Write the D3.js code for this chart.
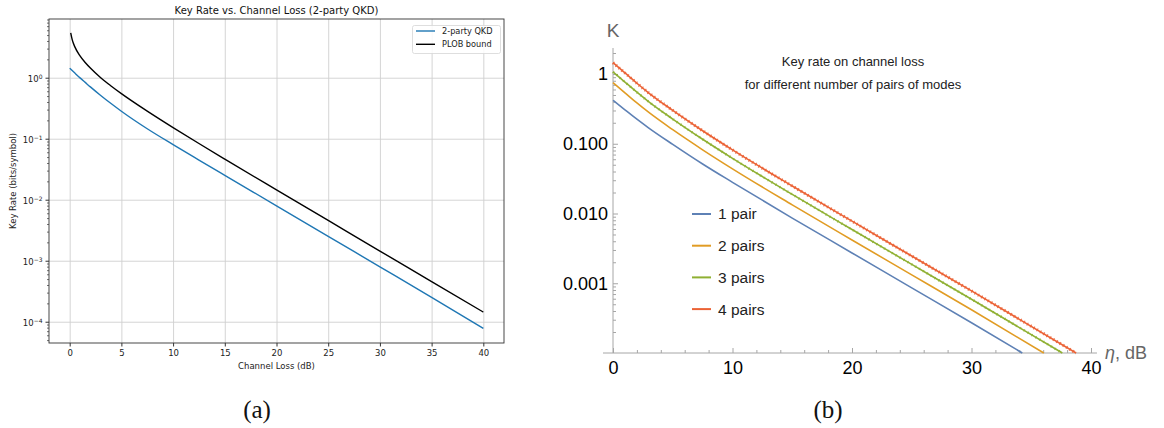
<!DOCTYPE html>
<html><head><meta charset="utf-8">
<script src="https://cdn.jsdelivr.net/npm/d3@7"></script>
<style>body{margin:0;background:#fff}svg{display:block}</style>
</head><body>
<svg id="c" width="1164" height="428"></svg>
<script>
// ---------------- DATA: panel (a) ----------------
const titleA = "Key Rate vs. Channel Loss (2-party QKD)";
const xLabelA = "Channel Loss (dB)";
const yLabelA = "Key Rate (bits/symbol)";
const seriesNamesA = ["2-party QKD", "PLOB bound"];
const xTicksA = [0,5,10,15,20,25,30,35,40];
const yTicksA = [1e-4,1e-3,1e-2,1e-1,1];
const yTickExpA = ["\u22124","\u22123","\u22122","\u22121","0"];
const lossQkd = [0,0.5,1,1.5,2,3,4,5,7.5,10,12.5,15,20,25,30,35,40];
const rateQkd = [1.43,1.19,0.994,0.838,0.707,0.512,0.377,0.282,0.1455,0.080,0.0447,0.0251,0.00795,0.00251,0.000795,0.000251,0.0000775];
const lossPlob = [0.1,0.25,0.5,1,1.5,2,3,4,5,7.5,10,12.5,15,20,25,30,35,40];
const ratePlob = [5.45,4.16,3.2,2.28,1.78,1.44,1.0,0.732,0.548,0.283,0.152,0.0834,0.0463,0.0145,0.00457,0.00144,0.000456,0.000144];

// ---------------- DATA: panel (b) ----------------
const titleB1 = "Key rate on channel loss";
const titleB2 = "for different number of pairs of modes";
const seriesNamesB = ["1 pair","2 pairs","3 pairs","4 pairs"];
const xTicksB = [0,10,20,30,40];
const yTicksB = [1,0.1,0.01,0.001];
const yTickLabelsB = ["1","0.100","0.010","0.001"];
const lossB = [0,1,2,3,5,7.5,10,15,20,25,30];
const pair1 = [0.42,0.307,0.225,0.168,0.098,0.0513,0.028,0.0086,0.00272,0.00086,0.000272];
const pair2 = [0.75,0.538,0.385,0.281,0.159,0.0819,0.0437,0.0133,0.00417,0.00132,0.000417];
const pair3 = [1.072,0.767,0.548,0.399,0.226,0.116,0.0618,0.01878,0.00589,0.001863,0.000589];
const pair4 = [1.451,1.035,0.737,0.534,0.301,0.1536,0.0816,0.02476,0.00776,0.002454,0.000776];
const endLossB = [34.25,36.05,37.6,38.75];   // where each curve reaches the bottom (1e-4)
const endRateB = 0.0001;

const svg = d3.select("#c");

// ================= PANEL (a) =================
const aL=49, aR=504, aT=19, aB=343;
const xA = d3.scaleLinear().domain([-2,42]).range([aL,aR]);
const yA = d3.scaleLog().domain([4.48e-5,9.17]).range([aB,aT]);
const gA = svg.append("g").attr("font-family","DejaVu Sans, sans-serif");

// grid
gA.append("g").attr("transform",`translate(0,${aB})`)
  .call(d3.axisBottom(xA).tickValues(xTicksA).tickSize(-(aB-aT)).tickFormat(""))
  .call(g=>{g.select(".domain").remove();g.selectAll("line").attr("stroke","#cfcfcf").attr("stroke-width",0.9);});
gA.append("g").attr("transform",`translate(${aL},0)`)
  .call(d3.axisLeft(yA).tickValues(yTicksA).tickSize(-(aR-aL)).tickFormat(""))
  .call(g=>{g.select(".domain").remove();g.selectAll("line").attr("stroke","#cfcfcf").attr("stroke-width",0.9);});

// curves
const lineA = d3.line().x(d=>xA(d[0])).y(d=>yA(d[1])).curve(d3.curveMonotoneX);
gA.append("path").datum(d3.zip(lossQkd,rateQkd)).attr("d",lineA)
  .attr("fill","none").attr("stroke","#1f77b4").attr("stroke-width",1.4);
gA.append("path").datum(d3.zip(lossPlob,ratePlob)).attr("d",lineA)
  .attr("fill","none").attr("stroke","#000").attr("stroke-width",1.4);

// frame
gA.append("rect").attr("x",aL).attr("y",aT).attr("width",aR-aL).attr("height",aB-aT)
  .attr("fill","none").attr("stroke","#333").attr("stroke-width",0.9);

// x axis ticks
gA.append("g").attr("transform",`translate(0,${aB})`)
  .call(d3.axisBottom(xA).tickValues(xTicksA).tickSize(3.5).tickPadding(3).tickFormat(d3.format("d")))
  .call(g=>{g.select(".domain").remove();g.selectAll("line").attr("stroke","#333");
    g.selectAll("text").attr("font-size",8.5).attr("fill","#222").attr("font-family","DejaVu Sans");});

// y minor ticks
const minorA=[];
for(let e=-5;e<=0;e++) for(let k=2;k<=9;k++){const v=k*Math.pow(10,e); if(v>=4.48e-5&&v<=9.17) minorA.push(v);}
gA.append("g").attr("transform",`translate(${aL},0)`)
  .call(d3.axisLeft(yA).tickValues(minorA).tickSize(2).tickFormat(""))
  .call(g=>{g.select(".domain").remove();g.selectAll("line").attr("stroke","#333").attr("stroke-width",0.7);});
// y major ticks
const yAxA = gA.append("g").attr("transform",`translate(${aL},0)`)
  .call(d3.axisLeft(yA).tickValues(yTicksA).tickSize(3.5).tickPadding(3).tickFormat(""))
  .call(g=>{g.select(".domain").remove();g.selectAll("line").attr("stroke","#333");});
yAxA.selectAll(".tick").each(function(d){
  const t=d3.select(this).select("text").attr("font-size",8.5).attr("fill","#222")
    .attr("font-family","DejaVu Sans").attr("dy","0.45em");
  t.text(null);
  t.append("tspan").text("10");
  t.append("tspan").attr("dy","-0.55em").attr("font-size",6).text(yTickExpA[yTicksA.indexOf(d)]);
});

// labels
gA.append("text").attr("x",(aL+aR)/2).attr("y",aT-5).attr("text-anchor","middle")
  .attr("font-size",10).attr("fill","#111").text(titleA);
gA.append("text").attr("x",(aL+aR)/2).attr("y",369).attr("text-anchor","middle")
  .attr("font-size",8.5).attr("fill","#222").text(xLabelA);
gA.append("text").attr("transform",`translate(16,${(aT+aB)/2}) rotate(-90)`).attr("text-anchor","middle")
  .attr("font-size",8.5).attr("fill","#222").text(yLabelA);

// legend
const lgA = gA.append("g");
lgA.append("rect").attr("x",412.5).attr("y",25.5).attr("width",88).attr("height",28).attr("rx",2)
  .attr("fill","#fff").attr("fill-opacity",0.85).attr("stroke","#d6d6d6").attr("stroke-width",0.8);
const colsA=["#1f77b4","#000"];
seriesNamesA.forEach((n,i)=>{
  const y=31+i*13.3;
  lgA.append("line").attr("x1",416).attr("x2",435).attr("y1",y).attr("y2",y).attr("stroke",colsA[i]).attr("stroke-width",1.4);
  lgA.append("text").attr("x",442).attr("y",y).attr("dy","0.35em").attr("font-size",8.2).attr("fill","#222").text(n);
});

// caption
svg.append("text").attr("x",257).attr("y",418).attr("text-anchor","middle")
  .attr("font-family","Liberation Serif, serif").attr("font-size",25).attr("fill","#111").text("(a)");

// ================= PANEL (b) =================
const bAxisX=613, bAxisY=353;
const xB = d3.scaleLinear().domain([0,40]).range([613,1091]);
const yB = d3.scaleLog().domain([1e-4,1]).range([353,74]);
const gB = svg.append("g").attr("font-family","Liberation Sans, Arial, sans-serif");
const axisCol="#a6a6a6";

// axis lines
gB.append("line").attr("x1",bAxisX).attr("x2",bAxisX).attr("y1",48).attr("y2",bAxisY).attr("stroke",axisCol).attr("stroke-width",1);
gB.append("line").attr("x1",603).attr("x2",xB(40.5)).attr("y1",bAxisY).attr("y2",bAxisY).attr("stroke",axisCol).attr("stroke-width",1);

// y ticks (pointing right)
const minorB=[];
for(let e=-4;e<=0;e++) for(let k=2;k<=9;k++){const v=k*Math.pow(10,e); if(v<=2.3) minorB.push(v);}
gB.append("g").attr("transform",`translate(${bAxisX},0)`)
  .call(d3.axisLeft(yB).tickValues(minorB).tickSize(-3).tickFormat(""))
  .call(g=>{g.select(".domain").remove();g.selectAll("line").attr("stroke",axisCol);});
gB.append("g").attr("transform",`translate(${bAxisX},0)`)
  .call(d3.axisLeft(yB).tickValues(yTicksB).tickSize(-5).tickPadding(5).tickFormat((d,i)=>yTickLabelsB[i]))
  .call(g=>{g.select(".domain").remove();g.selectAll("line").attr("stroke",axisCol);
    g.selectAll("text").attr("font-size",18).attr("fill","#000").attr("font-family","Liberation Sans, Arial, sans-serif");});

// x ticks (pointing up)
const minorXB=d3.range(2,41,2).filter(v=>v%10!==0);
gB.append("g").attr("transform",`translate(0,${bAxisY})`)
  .call(d3.axisBottom(xB).tickValues(minorXB).tickSize(-3).tickFormat(""))
  .call(g=>{g.select(".domain").remove();g.selectAll("line").attr("stroke",axisCol);});
gB.append("g").attr("transform",`translate(0,${bAxisY})`)
  .call(d3.axisBottom(xB).tickValues(xTicksB).tickSize(-5).tickPadding(8).tickFormat(d3.format("d")))
  .call(g=>{g.select(".domain").remove();g.selectAll("line").attr("stroke",axisCol);
    g.selectAll("text").attr("font-size",18).attr("fill","#000").attr("font-family","Liberation Sans, Arial, sans-serif");});

// axis labels
gB.append("text").attr("x",bAxisX).attr("y",37).attr("text-anchor","middle")
  .attr("font-size",19).attr("fill","#666").text("K");
const etaLbl = gB.append("text").attr("x",xB(40.5)+8).attr("y",bAxisY+6).attr("font-size",18).attr("fill","#666");
etaLbl.append("tspan").attr("font-style","italic").text("\u03b7");
etaLbl.append("tspan").text(", dB");

// curves
const colsB=["#5e81b5","#e19c24","#8fb032","#eb6235"];
const lineB = d3.line().x(d=>xB(d[0])).y(d=>yB(d[1])).curve(d3.curveMonotoneX);
[pair1,pair2,pair3,pair4].forEach((vals,i)=>{
  const pts = d3.zip(lossB,vals).concat([[endLossB[i],endRateB]]);
  gB.append("path").datum(pts).attr("d",lineB).attr("fill","none")
    .attr("stroke",colsB[i]).attr("stroke-width",1.6);
  if(i>=2){
    gB.append("path").datum(pts).attr("d",lineB).attr("fill","none")
      .attr("stroke",colsB[i]).attr("stroke-width",i===3?3.2:2.6)
      .attr("stroke-dasharray",i===3?"1.2 2.6":"1 3.5").attr("stroke-opacity",0.85);
  }
});

// title
const tFont="Liberation Sans Narrow, Liberation Sans, Arial, sans-serif";
gB.append("text").attr("x",853).attr("y",66).attr("text-anchor","middle")
  .attr("font-family",tFont).attr("font-size",13).attr("fill","#222").text(titleB1);
gB.append("text").attr("x",853).attr("y",89).attr("text-anchor","middle")
  .attr("font-family",tFont).attr("font-size",13).attr("fill","#222").text(titleB2);

// legend
seriesNamesB.forEach((n,i)=>{
  const y=214+i*31.7;
  gB.append("line").attr("x1",692).attr("x2",711).attr("y1",y).attr("y2",y).attr("stroke",colsB[i]).attr("stroke-width",2);
  gB.append("text").attr("x",718).attr("y",y).attr("dy","0.35em").attr("font-size",15.5).attr("fill","#222").text(n);
});

// caption
svg.append("text").attr("x",828).attr("y",418).attr("text-anchor","middle")
  .attr("font-family","Liberation Serif, serif").attr("font-size",25).attr("fill","#111").text("(b)");
</script>
</body></html>
